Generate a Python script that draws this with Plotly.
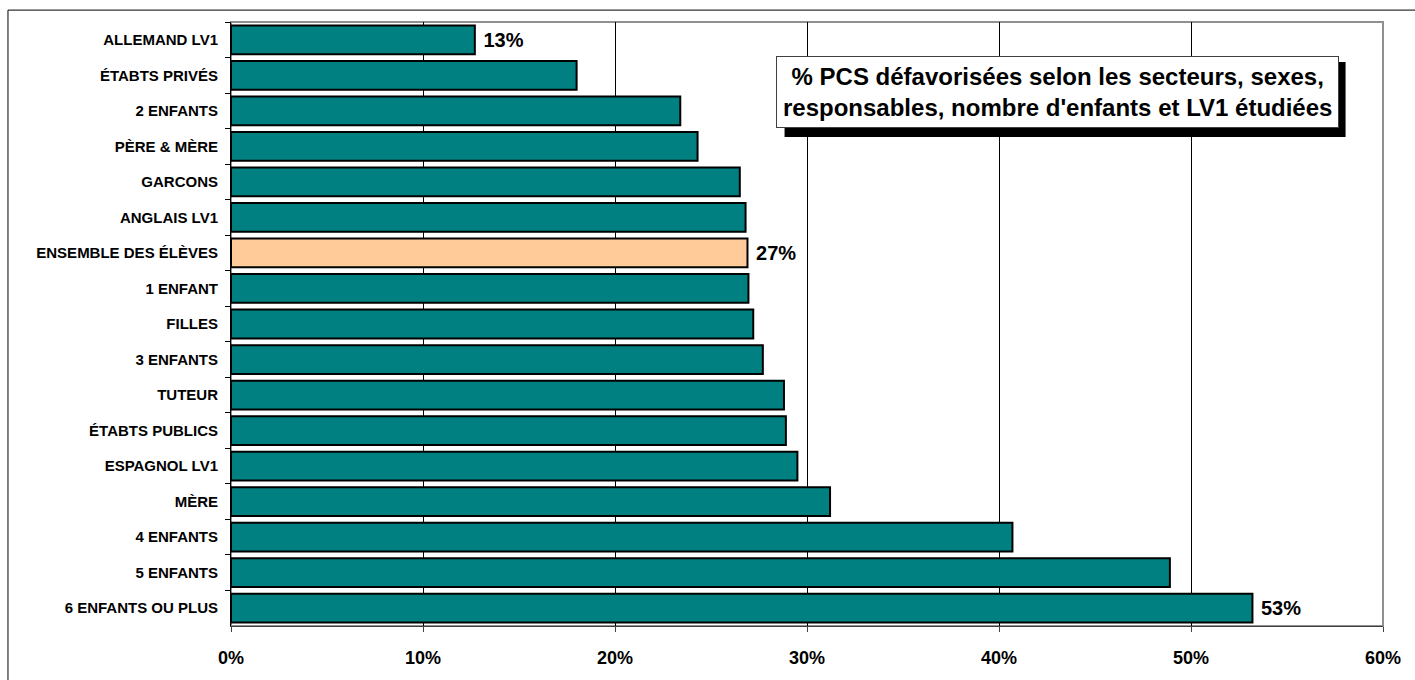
import plotly.graph_objects as go

# catégories, du haut vers le bas
categories = [
    "ALLEMAND LV1", "ÉTABTS PRIVÉS", "2 ENFANTS", "PÈRE & MÈRE", "GARCONS",
    "ANGLAIS LV1", "ENSEMBLE DES ÉLÈVES", "1 ENFANT", "FILLES", "3 ENFANTS",
    "TUTEUR", "ÉTABTS PUBLICS", "ESPAGNOL LV1", "MÈRE", "4 ENFANTS",
    "5 ENFANTS", "6 ENFANTS OU PLUS",
]
valeurs = [
    0.127, 0.180, 0.234, 0.243, 0.265,
    0.268, 0.269, 0.2695, 0.272, 0.277,
    0.288, 0.289, 0.295, 0.312, 0.407,
    0.489, 0.532,
]
etiquettes = ["13%", "", "", "", "", "", "27%", "", "", "", "", "", "", "", "", "", "53%"]
x_ticks = [0, 0.1, 0.2, 0.3, 0.4, 0.5, 0.6]
x_ticklabels = ["0%", "10%", "20%", "30%", "40%", "50%", "60%"]

titre = "% PCS défavorisées selon les secteurs, sexes,<br>responsables, nombre d'enfants et LV1 étudiées"

couleurs = ["#FFCC99" if c == "ENSEMBLE DES ÉLÈVES" else "#008080" for c in categories]

police = "Liberation Sans, Arial, sans-serif"

fig = go.Figure()
fig.add_trace(go.Bar(
    x=valeurs,
    y=categories,
    orientation="h",
    marker=dict(color=couleurs, line=dict(color="black", width=2)),
    text=[" " + e if e else "" for e in etiquettes],
    textposition="outside",
    textfont=dict(family=police, size=20, color="black", weight="bold"),
    cliponaxis=False,
    width=0.81,
    showlegend=False,
))

fig.update_layout(
    width=1415,
    height=680,
    margin=dict(l=231, r=32, t=22, b=50),
    paper_bgcolor="white",
    plot_bgcolor="white",
    font=dict(family=police, color="black"),
    xaxis=dict(
        range=[0, 0.6],
        tickvals=x_ticks,
        ticktext=x_ticklabels,
        tickfont=dict(family=police, size=18, weight="bold"),
        showgrid=True,
        gridcolor="black",
        gridwidth=1,
        showline=True,
        linecolor="#404040",
        linewidth=1,
        ticks="outside",
        ticklen=5,
        tickcolor="#404040",
        ticklabelstandoff=10,
        zeroline=False,
        fixedrange=True,
    ),
    yaxis=dict(
        autorange="reversed",
        tickfont=dict(family=police, size=15, weight="bold"),
        showgrid=False,
        showline=True,
        linecolor="black",
        linewidth=1,
        ticks="outside",
        tickson="boundaries",
        ticklen=5,
        tickcolor="black",
        ticklabelstandoff=9,
        fixedrange=True,
    ),
    shapes=[
        # cadre de la zone de tracé
        dict(type="rect", xref="paper", yref="paper", x0=0, x1=1, y0=0, y1=1,
             line=dict(color="#909090", width=2), layer="below"),
        # cadre extérieur (coupé à droite et en bas)
        dict(type="rect", xref="paper", yref="paper", x0=-0.1936, x1=1.05,
             y0=-0.12, y1=1.0197, line=dict(color="black", width=1)),
        # ombre du cadre de titre
        dict(type="rect", xref="paper", yref="paper",
             xsizemode="pixel", ysizemode="pixel",
             xanchor=0.7175, yanchor=0.884,
             x0=-273, x1=288, y0=-45, y1=30,
             fillcolor="black", line=dict(width=0)),
    ],
)

fig.add_annotation(
    xref="paper", yref="paper",
    x=0.7175, y=0.884,
    xanchor="center", yanchor="middle",
    text=titre,
    showarrow=False,
    align="center",
    font=dict(family=police, size=24, color="black", weight="bold"),
    bgcolor="white",
    bordercolor="#404040",
    borderwidth=1,
    borderpad=6,
)

fig.write_html("out.html", config={"displayModeBar": False},
               post_script="document.body.style.margin='0';")
